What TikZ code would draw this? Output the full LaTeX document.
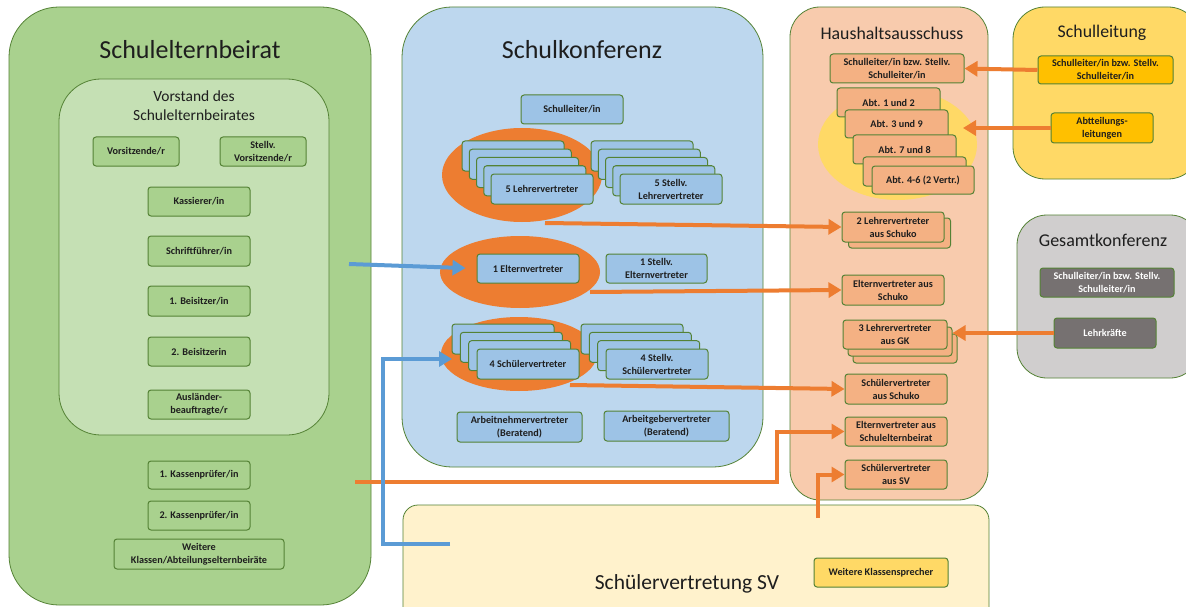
\documentclass[tikz,border=0pt]{standalone}
\usepackage{fontspec}
\setmainfont{Carlito}
\usetikzlibrary{arrows.meta,shapes.geometric}
\definecolor{bd}{HTML}{548235}
\definecolor{gOut}{HTML}{A9D18E}
\definecolor{gIn}{HTML}{C5E0B4}
\definecolor{bCont}{HTML}{BDD7EE}
\definecolor{bBox}{HTML}{9DC3E6}
\definecolor{oCont}{HTML}{F8CBAD}
\definecolor{oBox}{HTML}{F4B183}
\definecolor{yCont}{HTML}{FFD966}
\definecolor{yBox}{HTML}{FFC000}
\definecolor{grCont}{HTML}{D0CECE}
\definecolor{grBox}{HTML}{767171}
\definecolor{svCont}{HTML}{FFF2CC}
\definecolor{oLine}{HTML}{ED7D31}
\definecolor{bLine}{HTML}{5B9BD5}
\definecolor{txt}{HTML}{1E1E1E}
\tikzset{
  cont/.style={draw=bd, line width=0.8pt},
  ctitle/.style={font=\fontsize{#1}{#1}\selectfont, text=txt, inner sep=0pt},
  card/.style={draw=bd, line width=1pt, rounded corners=3pt, inner sep=1pt,
    align=center, text=txt, font=\bfseries\fontsize{10.2}{13}\selectfont},
  gbox/.style={card, fill=gOut},
  bbox/.style={card, fill=bBox},
  obox/.style={card, fill=oBox},
  ybox/.style={card, fill=yBox},
  dbox/.style={card, fill=grBox, text=white},
  lbox/.style={card, fill=yCont},
  oarrow/.style={draw=oLine, line width=4pt, -{Triangle[length=13pt,width=15pt]}},
  barrow/.style={draw=bLine, line width=4pt, -{Triangle[length=13pt,width=15pt]}},
  blob/.style={ellipse, fill=oLine, inner sep=0pt},
}
\begin{document}
\begin{tikzpicture}[x=1pt,y=-1pt]
\clip (0,0) rectangle (1186,607);
\fill[white] (0,0) rectangle (1186,607);
% ---------------- Schulelternbeirat
\draw[cont, fill=gOut, rounded corners=50pt] (9,7) rectangle (371,605);
\draw[cont, fill=gIn, rounded corners=42pt] (59,79) rectangle (329,435);
\node[ctitle=26] (tSEB) at (190,50) {Schulelternbeirat};
\node[ctitle=15.5, align=center, font=\fontsize{15.5}{19}\selectfont] (tVor) at (194,106) {Vorstand des\\Schulelternbeirates};
\node[gbox, minimum width=86, minimum height=29] (vors) at (136,151.5) {Vorsitzende/r};
\node[gbox, minimum width=86, minimum height=29] (stv) at (263,151.5) {Stellv.\\Vorsitzende/r};
\node[gbox, minimum width=102, minimum height=29] (kass) at (199,201.5) {Kassierer/in};
\node[gbox, minimum width=102, minimum height=30] (schrift) at (199,251) {Schriftführer/in};
\node[gbox, minimum width=102, minimum height=30] (beis1) at (199,301) {1. Beisitzer/in};
\node[gbox, minimum width=102, minimum height=29] (beis2) at (199,351.5) {2. Beisitzerin};
\node[gbox, minimum width=102, minimum height=29] (ausl) at (199,404.5) {Ausländer-\\beauftragte/r};
\node[gbox, minimum width=102, minimum height=28] (kp1) at (199,475) {1. Kassenprüfer/in};
\node[gbox, minimum width=102, minimum height=29] (kp2) at (199,515.5) {2. Kassenprüfer/in};
\node[gbox, minimum width=170, minimum height=30] (weit) at (199,554) {Weitere\\Klassen/Abteilungselternbeiräte};
% ---------------- Schülervertretung SV
\draw[cont, fill=svCont, rounded corners=15pt] (403,505) rectangle (989,640);
\node[ctitle=21.5] (tSV) at (687,584) {Schülervertretung SV};
\node[lbox, minimum width=134, minimum height=29] (wk) at (881,572.5) {Weitere Klassensprecher};
% ---------------- Schulkonferenz
\draw[cont, fill=bCont, rounded corners=50pt] (402,7) rectangle (763,467);
\node[ctitle=26] (tSK) at (582,50) {Schulkonferenz};
\node[bbox, minimum width=102, minimum height=29] (sl) at (572,109.5) {Schulleiter/in};
\node[blob, minimum width=160, minimum height=94] (e1) at (522,175) {};
\node[blob, minimum width=160, minimum height=72] (e2) at (520,272) {};
\node[blob, minimum width=156, minimum height=74] (e3) at (519,354) {};
\foreach \k in {4,3,2,1}{
  \node[bbox, minimum width=102, minimum height=30] at ({542-7.25*\k},{189-8.25*\k}) {};
  \node[bbox, minimum width=102, minimum height=30] at ({671-7.25*\k},{189-8.25*\k}) {};
}
\node[bbox, minimum width=102, minimum height=30] (lv) at (542,189) {5 Lehrervertreter};
\node[bbox, minimum width=102, minimum height=30] (slv) at (671,189) {5 Stellv.\\Lehrervertreter};
\node[bbox, minimum width=102, minimum height=29] (ev) at (528,268.5) {1 Elternvertreter};
\node[bbox, minimum width=101, minimum height=29] (sev) at (656.5,268.5) {1 Stellv.\\Elternvertreter};
\foreach \k in {3,2,1}{
  \node[bbox, minimum width=102, minimum height=30] (svb\k) at ({528-8.33*\k},{364-8.33*\k}) {};
  \node[bbox, minimum width=102, minimum height=30] at ({657-8.33*\k},{364-8.33*\k}) {};
}
\node[bbox, minimum width=102, minimum height=30] (sv) at (528,364) {4 Schülervertreter};
\node[bbox, minimum width=102, minimum height=30] (ssv) at (657,364) {4 Stellv.\\Schülervertreter};
\node[bbox, minimum width=125, minimum height=30] (an) at (519.5,427) {Arbeitnehmervertreter\\(Beratend)};
\node[bbox, minimum width=125, minimum height=30] (ag) at (666.5,426) {Arbeitgebervertreter\\(Beratend)};
% ---------------- Haushaltsausschuss
\draw[cont, fill=oCont, rounded corners=30pt] (790,7) rectangle (988,500);
\node[ctitle=17.8] (tHA) at (892,33) {Haushaltsausschuss};
\node[obox, minimum width=134, minimum height=29] (hsl) at (897,68.5) {Schulleiter/in bzw. Stellv.\\Schulleiter/in};
\node[ellipse, fill=yCont, inner sep=0pt, minimum width=159, minimum height=111] (ye) at (897.5,144.5) {};
\node[obox, minimum width=103, minimum height=29] (abt12) at (888.5,102.5) {Abt. 1 und 2};
\node[obox, minimum width=103, minimum height=28] (abt39) at (896.5,124) {Abt. 3 und 9};
\node[obox, minimum width=103, minimum height=29] (abt78) at (904.5,149.5) {Abt. 7 und 8};
\node[obox, minimum width=103, minimum height=29] (abt46b) at (914.5,171.5) {};
\node[obox, minimum width=102, minimum height=28] (abt46) at (923,180) {Abt. 4-6 (2 Vertr.)};
\node[obox, minimum width=102, minimum height=30] (lv2b) at (899.5,233) {};
\node[obox, minimum width=102, minimum height=30] (lv2) at (893,227) {2 Lehrervertreter\\aus Schuko};
\node[obox, minimum width=102, minimum height=30] (evs) at (893,290) {Elternvertreter aus\\Schuko};
\node[obox, minimum width=104, minimum height=29] (lv3c) at (905,348.5) {};
\node[obox, minimum width=104, minimum height=29] (lv3b) at (900,341.5) {};
\node[obox, minimum width=104, minimum height=29] (lv3) at (895,334.5) {3 Lehrervertreter\\aus GK};
\node[obox, minimum width=102, minimum height=30] (svs) at (896,389) {Schülervertreter\\aus Schuko};
\node[obox, minimum width=102, minimum height=29] (evse) at (896,431.5) {Elternvertreter aus\\Schulelternbeirat};
\node[obox, minimum width=102, minimum height=29] (svsv) at (896,474.5) {Schülervertreter\\aus SV};
% ---------------- Schulleitung
\draw[cont, fill=yCont, rounded corners=32pt] (1013,7) rectangle (1200,179);
\node[ctitle=17.8] (tSL) at (1102,33) {Schulleitung};
\node[ybox, minimum width=135, minimum height=28] (slsl) at (1105.5,70) {Schulleiter/in bzw. Stellv.\\Schulleiter/in};
\node[ybox, minimum width=102, minimum height=30] (abtl) at (1102,128) {Abtteilungs-\\leitungen};
% ---------------- Gesamtkonferenz
\draw[cont, fill=grCont, rounded corners=30pt] (1017,215) rectangle (1200,378);
\node[ctitle=18] (tGK) at (1103,240) {Gesamtkonferenz};
\node[dbox, minimum width=134, minimum height=29] (gksl) at (1107,282.5) {Schulleiter/in bzw. Stellv.\\Schulleiter/in};
\node[dbox, minimum width=102, minimum height=30] (lk) at (1105,333) {Lehrkräfte};
% ---------------- connectors
\coordinate (a1) at (545,223);
\coordinate (a2) at (590,292);
\coordinate (a3) at (570,385);
\coordinate (a4) at (355,482);
\coordinate (a5) at (818,518);
\coordinate (a6) at (963,128);
\coordinate (b1) at (349,264);
\coordinate (b2) at (450,544);
\coordinate (b3) at (452,359);
\draw[oarrow] (slsl.west) -- (hsl.east);
\draw[oarrow] (abtl.west) -- (a6);
\draw[oarrow] (lk.west) -- (lk.west -| lv3b.east);
\draw[oarrow] (a1) -- (lv2.west);
\draw[oarrow] (a2) -- (evs.west);
\draw[oarrow] (a3) -- (svs.west);
\draw[oarrow] (a4) -- ++(422,0) |- (evse.west);
\draw[oarrow] (a5) |- (svsv.west);
\draw[barrow, shorten >=11pt] (b1) -- (ev.west);
\draw[barrow] (b2) -- ++(-67,0) |- (b3);
\end{tikzpicture}
\end{document}
